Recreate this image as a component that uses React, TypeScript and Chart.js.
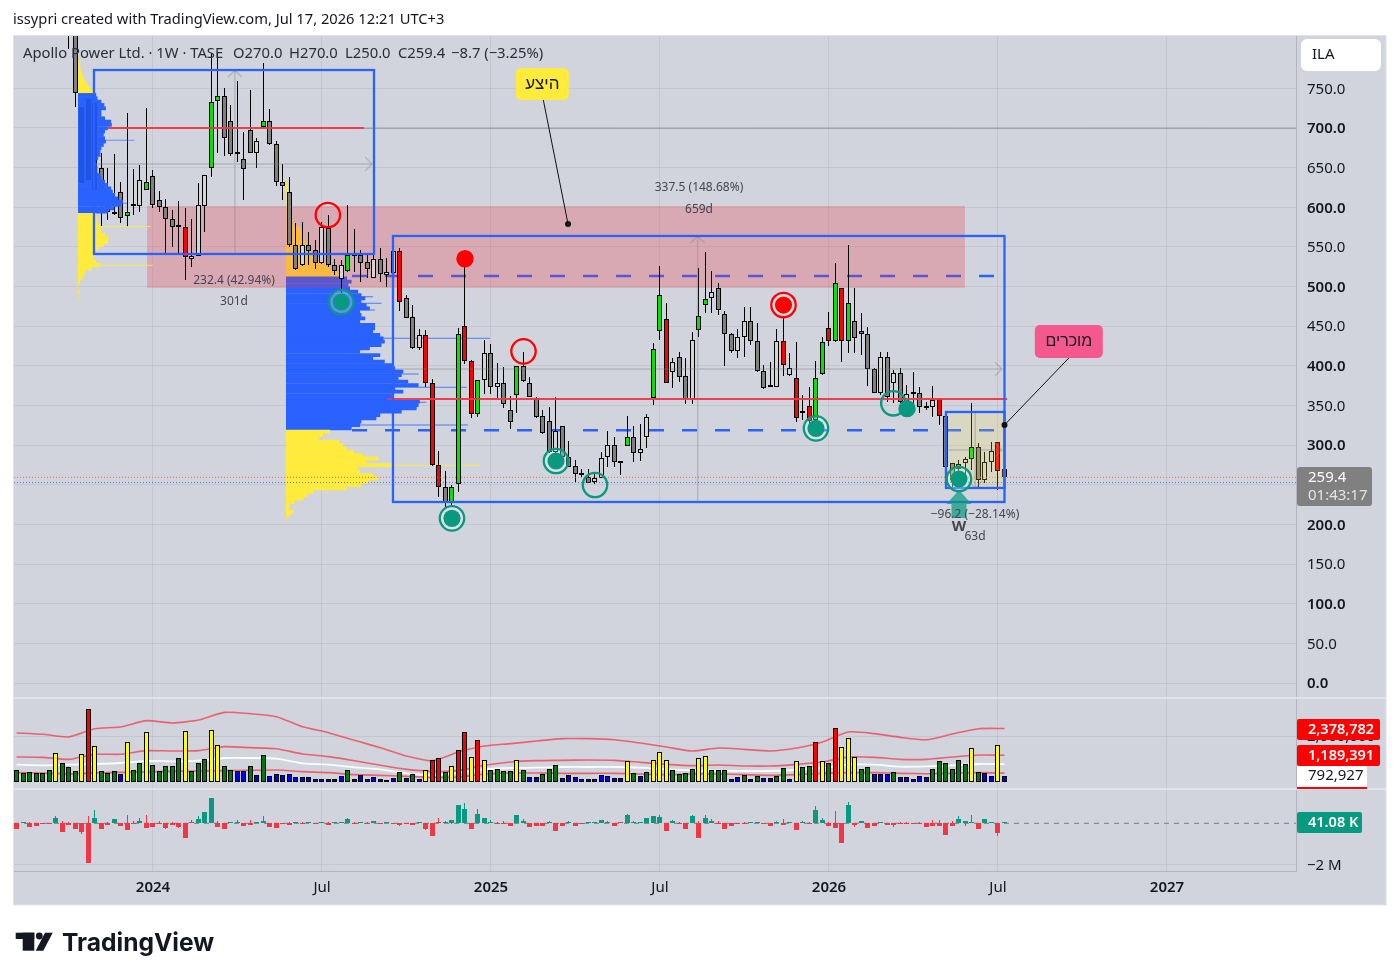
import React, { useEffect, useRef } from "react";
import { Chart, registerables } from "chart.js";

Chart.register(...registerables);

const FONT = '"Noto Sans", sans-serif';

// ---------- time axis ----------
const timeTickIndex = [21, 47, 73, 99, 125, 151, 177];
const timeTickLabels = ["2024", "Jul", "2025", "Jul", "2026", "Jul", "2027"];
const priceTicks = [0, 50, 100, 150, 200, 250, 300, 350, 400, 450, 500, 550, 600, 650, 700, 750];

// ---------- candles (first one sits at bar index 8) ----------
const firstCandleIndex = 8;
// g dark grey, l light grey, G green, R red
const candleKindRows = ["gg","gggggggGgl","GgggggRlll","GGgglgglGg","gggglgglgg","lGggglgllR","gglRRRgGGR","RGlglggGgg","ggglgggggl","llggGgllGG","RlgglGGlgg","gllgggllRl","RRRGGRGRGg","ggglglglgg","glRggGlGgl","lRg"];
const candleOpen = [840,820,727,737,731,649,605,594,619,589,603,602,622,639,609,600,585,576.4,574.7,534.4,538,602,649,733.6,740,709,667,660.5,697,669,700.8,708.4,679.4,631.5,618.9,552,526.8,552,546,529.3,574,526.8,510,519.2,539.8,539.4,531,510.4,535,515,517.5,544.4,485,461,422.9,438.4,378,274.5,246.7,226.6,250.5,449.8,405.7,338.8,381.7,415.8,372.9,378,343.9,362.8,399.4,378,359,336.3,330,291.7,323.7,284.6,273.2,263.2,259.4,253,258.1,284.6,299.7,278.3,299.3,309.8,289.6,309.8,359,443.5,458.6,391.8,410.7,386.7,357.7,444.8,476.3,485.1,497.7,464.9,439.7,418.3,436,456.1,430.9,393,373.7,372.9,430.9,388.8,384.2,342.6,348.9,331.7,389.3,447.3,430.9,497.7,430.9,456.1,443.5,439.7,395.6,365.3,410.7,378,390.5,350.6,365.3,365.3,348.5,347.6,357.7,336.3,277,269.4,277,282,297.2,255.6,278.3,303.5,270];
const candleClose = [822,744,630,634,622,625,594,592,587,594,602,634,631.5,603.3,600,585,575.6,575.6,537,538,602.5,640.3,732.4,740,687,667,670,648,669,684,708.4,679.4,631.5,627.3,552,521.8,552,544.5,529.3,575.6,526.8,519.2,526.8,539.8,539,530,521.8,535,515.9,518,544.4,480,460.7,422.9,438.4,378,274.5,246.7,226.6,246.7,439.7,405.7,338.8,381.7,415.8,372.9,378,351.4,328.7,399.4,380.4,361,335,314.9,291.7,317.4,285.4,272.8,263.2,262.3,252.6,258.1,284.2,299.7,278.3,277,309.8,289.6,294.7,335,420.8,488.9,378.7,404.4,385.5,357.7,432.1,462.4,484.7,492.7,470,439.7,418.3,436,456.1,430.9,393,371.6,374.5,430.9,400.6,397.7,333.8,340.1,330.8,384.2,429.6,430.9,504,430.9,478.8,434.7,439.7,395.6,365.3,410.7,361,390.5,354.8,364,364.5,347.6,347.2,356.5,336.3,272,256,275.8,282,297.2,255.6,278.3,292.2,266.9,259.4];
const candleHigh = [860,860,735,750,745,668,649,667,632,718.5,648,653,725,647,621,611,597,608,599,585,630,641,794,794,751,729,759,695,748,687,781.6,723.5,683.6,654.6,638.6,580.6,581.4,569,559,582,590,534.4,533.5,602.9,572.6,546,539.8,542,548,535.6,550,548,489.3,476.7,446.4,445,383,292.6,267.8,249.7,447.3,535.6,407.3,382,432.6,427,403.1,398.1,362.4,399.8,417.4,385.9,360.2,343.9,348,360.2,323.7,305.2,281.2,269.4,269.4,264.4,290.9,317.8,310.6,279.1,336.7,324.1,326.6,339.2,429.2,525.9,478.8,409.4,417.8,409.4,443,523,543.1,519.2,504,469.1,441,446,473.8,473.8,453.6,400.6,405.2,446,459.9,415.8,429.6,363.2,373.7,406.1,436.8,467.5,529.3,497.7,552.4,497.7,466.2,448.5,396.8,417,417,394.7,396.8,375.8,391.8,373.7,354.8,374.5,359,336.3,277,281.2,285.4,352.7,302.2,290.9,303.5,304.3,270];
const candleLow = [800,727,620,625,610,576,584,590,580,575.6,590,594,622,599,594,542,550,542,508,525,538,569,638.6,668,664.7,665,657.5,609,668,650,700,678,627,609,550.3,521,526,527,521.8,528.5,525,514.6,491.5,518.8,518.8,506,510.4,510.4,506,500,514.5,469,460.7,420.8,420,373.7,273.7,235,222.4,222.4,241.3,401.9,333.8,335.9,364.5,364.5,359.8,346.4,320.3,340.9,379.2,360.2,333.8,314,289.6,289.6,285.4,272,253.9,259.4,251.8,251,258.1,272.8,272.8,262.3,299.3,279.1,280.4,296.8,350.6,432.6,378,372.4,380,351.4,351.8,436.8,467,466.2,464,399.8,416.6,410.3,411.5,426.3,392.6,370.3,373.7,372.9,387.6,387.6,329.6,331.7,323.3,331.7,388,425,430.5,405.2,416.6,416.6,413.6,375,365.3,363.2,354,352.7,352.7,342.2,348.5,340.9,344.3,335.9,325.4,272,247.6,247,256,268.6,247.6,251.8,266.5,243.4,250];
const hiddenCandleIndex = [10, 11, 12];

// ---------- volume pane (thousands of shares, one per bar from index 0) ----------
const volumeK = [548,415,459,415,415,548,1304,859,681,504,1259,3259,1615,504,415,504,370,1793,548,859,2237,770,504,726,726,1081,2281,504,859,1037,2326,1659,726,548,504,504,726,326,1215,281,370,326,370,237,237,237,148,148,148,148,281,548,148,326,148,237,148,104,193,459,193,370,148,548,993,1081,459,726,1437,2237,1126,1881,993,548,593,504,504,993,548,237,237,370,593,770,193,326,237,148,148,148,326,281,193,193,948,415,281,459,993,1348,993,548,370,415,593,1081,1170,548,548,548,148,237,326,148,281,193,193,281,637,148,948,681,726,1793,948,859,2415,1570,1970,1126,593,681,370,370,370,459,237,237,148,281,237,593,948,859,593,993,815,1526,459,415,281,1659,281];
// g green, y yellow, r red, b blue
const volumeKindRows = ["ggggggyggg","yrygggbygg","ygggggyggg","yyggbbgbgb","bbbbbbbbbb","bgbbbbbbbg","bgbyrrgyrr","yryggggygb","bgggbbbbbb","bbbbygbgyy","yggggyyggg","bbgbgbbggb","yggrygryyy","ggbbbgbbbb","bggggggygb","byb"];
const volumeLineIndex = [0,4,8,12,16,20,24,28,32,36,40,44,48,52,56,60,64,68,72,76,80,84,88,92,96,100,104,108,112,116,120,124,128,132,136,140,144,148,152];
const volumeUpperK = [2178,2119,2000,2370,2444,2726,2622,2756,3096,3037,2904,2459,2193,1852,1526,1156,948,1333,1600,1704,1822,1926,1926,1881,1733,1556,1378,1511,1452,1378,1511,1778,2222,2148,1985,1881,2133,2370,2378.782];
const volumeMidK = [1111,1096,1007,1230,1230,1393,1378,1393,1570,1526,1481,1244,1126,948,741,563,474,504,741,889,948,963,978,963,874,785,726,756,711,711,785,889,1111,1096,1007,1007,1111,1200,1189.391];
const volumeMaK = [770,741,770,800,844,933,919,948,1067,1067,1037,830,770,652,563,385,296,415,563,622,637,667,667,667,637,563,519,504,489,489,533,622,770,770,681,696,741,800,792.927];
const volumeLowerK = [415,400,356,400,430,444,474,489,504,519,533,459,415,326,296,252,207,222,356,400,400,385,385,385,356,326,356,356,326,296,326,385,415,415,385,370,385,415,396];

// ---------- oscillator pane (thousands) ----------
const oscBody = [-272,64,-160,-112,-48,-32,256,-400,-96,-272,-416,-1888,256,-256,-64,208,-128,-320,-48,112,-224,-160,-48,-208,-64,-176,-688,-8,208,544,1216,-160,-272,32,48,-112,-64,16,112,-160,-224,-16,-64,32,-16,16,-32,16,-64,16,64,208,-16,32,-32,112,-16,16,-16,-80,-16,-96,48,-272,-608,-8,16,160,880,688,-272,448,256,16,-16,-16,-112,400,112,-176,-128,-128,48,-368,-128,64,-128,-16,64,48,160,32,-128,-8,400,64,32,256,352,304,-368,112,-16,-272,352,-704,256,112,-32,-272,-128,-32,-16,48,48,-48,-128,64,-64,32,-320,64,-16,640,160,-128,-224,-944,880,-80,112,-224,-128,64,-64,-64,-32,-16,-16,-32,-176,-128,-128,-560,-128,208,112,16,-272,208,64,-464,41];
const oscWickIndex = [2,6,7,8,10,11,12,14,17,18,19,20,22,23,24,25,27,28,31,34,36,38,42,43,44,48,51,52,54,59,63,65,66,67,69,71,73,74,75,78,82,85,91,94,95,99,101,102,104,105,106,107,108,112,117,118,119,121,122,123,124,125,126,128,129,135,136,137,139,141,142,144,145,146,147,151];
const oscWickK = [64,352,112,64,-512,352,640,64,400,112,256,400,112,-256,64,-224,160,352,112,144,160,352,64,64,64,64,256,64,64,-128,-320,240,112,-48,976,688,160,64,112,208,112,112,112,448,112,400,160,64,400,112,400,208,112,64,112,208,64,112,64,832,256,64,592,1024,-176,-176,64,64,64,160,160,112,352,-128,400,-608];

// ---------- volume profiles: rows of price and width in bars ----------
const profileALeft = 9.46;
const profileAPrice = [787.9,783.7,779.5,775.2,771,766.8,762.6,758.4,754.2,750,745.8,741.6,737.4,733.2,729,724.8,720.6,716.4,712.2,708,703.8,699.6,695.4,691.2,687,682.8,678.6,674.4,670.2,666,661.7,657.5,653.3,649.1,644.9,640.7,636.5,632.3,628.1,623.9,619.7,615.5,611.3,607.1,602.9,598.7,594.5,590.3,586.1,581.9,577.7,573.5,569.3,565,560.8,556.6,552.4,548.2,544,539.8,535.6,531.4,527.2,523,518.8,514.6,510.4,506.2,502,497.8,493.6,489.4,485.2];
const profileAWidth = [0.05,0.15,0.25,0.35,0.45,0.7,0.85,1.2,1.5,1.9,2.5,2.8,3,3.6,4.05,4.3,3.6,3.6,4.15,5.1,5.2,4.6,4.15,3.95,4.15,4.3,3.95,3.6,3.45,3.45,3.1,2.8,2.9,3,3,3.45,3.6,4.15,4.6,5.1,5.35,5.7,6.2,6.9,6.6,5.6,4.6,2.8,2.9,3,3.3,3.45,3.6,4.15,4.7,4.65,3.95,3.1,2.5,2.5,2.4,2.8,3.45,2.1,1.1,0.85,0.7,0.3,0.1,0.05,0.15,0.05,0.1];
const profileAValueHigh = 744;
const profileAValueLow = 592;
const profileASpikePrice = [684.4,605,575.6,526.8];
const profileASpikeWidth = [8.7,7.6,11.2,11.5];

const profileBLeft = 41.46;
const profileBPrice = [632.3,628.1,623.9,619.6,615.4,611.2,607,602.8,598.6,594.4,590.2,586,581.8,577.6,573.4,569.2,565,560.8,556.6,552.4,548.2,544,539.8,535.6,531.4,527.2,523,518.8,514.5,510.3,506.1,501.9,497.7,493.5,489.3,485.1,480.9,476.7,472.5,468.3,464.1,459.9,455.7,451.5,447.3,443.1,438.9,434.7,430.5,426.3,422.1,417.9,413.6,409.4,405.2,401,396.8,392.6,388.4,384.2,380,375.8,371.6,367.4,363.2,359,354.8,350.6,346.4,342.2,338,333.8,329.6,325.4,321.2,317,312.8,308.6,304.4,300.1,295.9,291.7,287.5,283.3,279.1,274.9,270.7,266.5,262.3,258.1,253.9,249.7,245.5,241.3,237.1,232.9,228.7,224.5,220.3,216.1,211.9,207.7];
const profileBWidth = [0.1,0.2,0.2,0.25,0.3,0.3,0.35,0.4,0.45,0.6,0.7,0.85,1,1.1,2.15,2.35,2.55,2.75,2.9,3.2,3.4,3.8,4.2,4.55,5.1,6.1,6.9,7.9,8.65,9.4,10.1,9.6,9.85,11.1,11.6,12.2,11.6,12.4,12.9,11.4,11.6,12.2,11.4,13.7,13.7,13.4,14.5,15,15.2,14.7,12.9,11.4,14.5,13.4,15.2,16.5,16.8,18.05,17.8,17.3,18.8,20.4,16.8,18.05,16.3,16.5,20.6,20.4,20.1,17.8,14.5,13.9,11.6,11.4,10.1,6.8,5.7,5,8.2,8.8,9.3,10.4,11.9,14.2,12.4,16.5,11.1,11.4,13.4,14.2,12.7,11.6,9.3,4.2,3.3,2.7,1.4,0.6,0.5,1.1,0.6,0.1];
const profileBValueHigh = 512;
const profileBValueLow = 319;
const profileBSpikePrice = [487.2,478.8,470.4,434.7,394.3,389.7,372.9,354,325.4,274.5];
const profileBSpikeWidth = [13.4,14.7,13.7,31.4,17.8,20.4,27.8,21.6,28,29.8];

// ---------- drawings, in bar index and price ----------
const rectangles = [
  [11.92, 773.1, 55, 541.1],
  [57.92, 563.8, 152, 228.3],
  [143, 341.8, 152, 246],
];
const supplyZone = [20.08, 601.6, 145.92, 498.4];
const solidRedLines = [
  [14.08, 53.46, 700],
  [57, 152.4, 358.2],
];
const dashedLevels = [513.3, 318.7];
const dashedFrom = 51.62;
const dashedTo = 150.4;
const measureLines = [
  { h: 654.6, from: 11.92, to: 54.7, v: 33.6, top: 773, bottom: 541, up: true },
  { h: 396, from: 57.92, to: 151.6, v: 104.8, top: 563.8, bottom: 228.3, up: true },
  { h: 293.9, from: 143, to: 151.6, v: 147.5, top: 341, bottom: 246, up: false },
];
const lastPrice = 259.4;
const bidPrice = 252.8;
const ringFilled = [[49.97,480.5],[67,207.7],[83,280],[123,321.2],[145,257.3]];
const ringOnly = [[89,249.7],[134.9,352.8]];
const dotOnly = [[137,346]];
const redRingOnly = [[47.9,590.2],[78,418.3]];
const redDotOnly = [[69,535.1]];
const redRingFilled = [[118,476.7]];

const kinds = candleKindRows.join("").split("");
const volumeKinds = volumeKindRows.join("").split("");

const KIND_COLOR: Record<string, string> = { g: "#808080", l: "#d4d4d4", G: "#00e600", R: "#ff0000" };
const VOL_COLOR: Record<string, string> = { g: "#007a0c", y: "#ffff00", r: "#ff0000", b: "#0000f0" };
const BLUE = "#2962ff";
const YELLOW = "#ffeb3b";
const TEAL = "#089981";
const RED = "#f23645";

const candleIdx = candleOpen.map((_, i) => i + firstCandleIndex);

function profileData(left: number, prices: number[], widths: number[]) {
  return prices.map((p, i) => ({ y: p, x: [left, left + widths[i]] }));
}
function profileColors(prices: number[], hi: number, lo: number, blue: string, yellow: string) {
  return prices.map((p) => (p <= hi && p >= lo ? blue : yellow));
}

const baseBar = { type: "bar" as const, grouped: false, xAxisID: "x", borderSkipped: false, inflateAmount: 0 };

const datasets: any[] = [
  // top layer first: lower order is painted later
  {
    ...baseBar, snap: 0, order: 0, yAxisID: "yP", barThickness: 5,
    data: hiddenCandleIndex.map((x) => ({ x, y: [candleOpen[x - firstCandleIndex], candleClose[x - firstCandleIndex]] })),
    backgroundColor: "rgba(0,30,130,0.2)",
  },
  {
    ...baseBar, order: 2, yAxisID: "yP", indexAxis: "y", barThickness: 1,
    data: profileData(profileALeft, profileASpikePrice, profileASpikeWidth),
    backgroundColor: profileColors(profileASpikePrice, profileAValueHigh, profileAValueLow, "rgba(41,98,255,0.6)", "rgba(255,235,59,0.85)"),
  },
  {
    ...baseBar, order: 3, yAxisID: "yP", indexAxis: "y", barThickness: 3.8,
    data: profileData(profileALeft, profileAPrice, profileAWidth),
    backgroundColor: profileColors(profileAPrice, profileAValueHigh, profileAValueLow, BLUE, YELLOW),
  },
  {
    ...baseBar, snap: 2, order: 10, yAxisID: "yP", barThickness: 5, borderWidth: 1, borderColor: "#000",
    data: candleIdx.map((x, i) => ({ x, y: [candleOpen[i], candleClose[i]] })),
    backgroundColor: kinds.map((k) => KIND_COLOR[k]),
  },
  {
    ...baseBar, snap: 1, order: 11, yAxisID: "yP", barThickness: 1,
    data: candleIdx.map((x, i) => ({ x, y: [candleLow[i], candleHigh[i]] })),
    backgroundColor: "#000",
  },
  {
    ...baseBar, order: 20, yAxisID: "yP", indexAxis: "y", barThickness: 1,
    data: profileData(profileBLeft, profileBSpikePrice, profileBSpikeWidth),
    backgroundColor: profileColors(profileBSpikePrice, profileBValueHigh, profileBValueLow, "rgba(41,98,255,0.8)", "rgba(255,235,59,0.9)"),
  },
  {
    ...baseBar, order: 21, yAxisID: "yP", indexAxis: "y", barThickness: 3.8,
    data: profileData(profileBLeft, profileBPrice, profileBWidth),
    backgroundColor: profileColors(profileBPrice, profileBValueHigh, profileBValueLow, BLUE, YELLOW),
  },
  // volume
  {
    ...baseBar, snap: 1, order: 30, yAxisID: "yV", barThickness: 5, borderWidth: 1, borderColor: "#000",
    data: volumeK.map((v, i) => ({ x: i, y: v })),
    backgroundColor: volumeKinds.map((k) => VOL_COLOR[k]),
  },
  ...[
    { d: volumeLowerK, c: "rgba(242,54,69,0.72)", w: 1.6 },
    { d: volumeMaK, c: "rgba(255,255,255,0.92)", w: 1.8 },
    { d: volumeMidK, c: "rgba(242,54,69,0.72)", w: 1.6 },
    { d: volumeUpperK, c: "rgba(242,54,69,0.72)", w: 1.6 },
  ].map((l, n) => ({
    type: "line" as const, order: 31 + n, xAxisID: "x", yAxisID: "yV", borderColor: l.c, borderWidth: l.w,
    pointRadius: 0, tension: 0.2, data: volumeLineIndex.map((x, i) => ({ x, y: l.d[i] })),
  })),
  // oscillator
  {
    ...baseBar, snap: 1, order: 40, yAxisID: "yO", barThickness: 5,
    data: oscBody.map((v, i) => ({ x: i, y: [0, v] })),
    backgroundColor: oscBody.map((v) => (v > 0 ? TEAL : RED)),
  },
  {
    ...baseBar, snap: 1, order: 41, yAxisID: "yO", barThickness: 1,
    data: oscWickIndex.map((x, i) => ({ x, y: [0, oscWickK[i]] })),
    backgroundColor: oscWickIndex.map((x) => (oscBody[x] > 0 ? TEAL : RED)),
  },
  {
    type: "line" as const, order: 42, xAxisID: "x", yAxisID: "yO", borderColor: "#787b86", borderWidth: 1,
    borderDash: [5, 5], pointRadius: 0, data: [{ x: -0.385, y: 0 }, { x: 196.85, y: 0 }],
  },
];

const PROFILE_B_DATASET = 6;

function chevron(ctx: any, x: number, y: number, dir: string) {
  ctx.beginPath();
  if (dir === "right") { ctx.moveTo(x - 7, y - 7); ctx.lineTo(x, y); ctx.lineTo(x - 7, y + 7); }
  if (dir === "up") { ctx.moveTo(x - 7, y + 7); ctx.lineTo(x, y); ctx.lineTo(x + 7, y + 7); }
  if (dir === "down") { ctx.moveTo(x - 7, y - 7); ctx.lineTo(x, y); ctx.lineTo(x + 7, y - 7); }
  ctx.stroke();
}

function txt(ctx: any, s: string, x: number, y: number, font: string, color: string, align: any = "left") {
  ctx.font = font;
  ctx.fillStyle = color;
  ctx.textAlign = align;
  ctx.textBaseline = "middle";
  ctx.fillText(s, x, y);
}

function roundBox(ctx: any, x: number, y: number, w: number, h: number, r: number, fill: string) {
  ctx.beginPath();
  ctx.roundRect(x, y, w, h, r);
  ctx.fillStyle = fill;
  ctx.fill();
}

const drawings = {
  id: "drawings",
  afterDatasetsUpdate(chart: any) {
    // pixel-snap bars the way the trading terminal does
    chart.data.datasets.forEach((ds: any, i: number) => {
      if (ds.snap === undefined) return;
      chart.getDatasetMeta(i).data.forEach((el: any) => {
        el.x = Math.round(el.x - 0.5) + 0.5;
        el.y = Math.round(el.y);
        el.base = Math.round(el.base);
        if (ds.snap && Math.abs(el.y - el.base) < ds.snap) el.y = el.base - ds.snap;
      });
    });
  },
  beforeDraw(chart: any) {
    const { ctx } = chart;
    ctx.save();
    ctx.fillStyle = "#fff";
    ctx.fillRect(0, 0, 1399, 980);
    ctx.fillStyle = "#d1d4dc";
    ctx.fillRect(13, 35, 1373, 870);
    ctx.restore();
  },
  afterDatasetDraw(chart: any, args: any) {
    if (args.index !== PROFILE_B_DATASET) return;
    const { ctx } = chart;
    const X = (v: number) => chart.scales.x.getPixelForValue(v);
    const Y = (v: number) => chart.scales.yP.getPixelForValue(v);
    ctx.save();
    ctx.strokeStyle = BLUE;
    ctx.lineWidth = 2.5;
    ctx.setLineDash([15, 18]);
    dashedLevels.forEach((p) => {
      ctx.beginPath();
      ctx.moveTo(X(dashedFrom), Y(p));
      ctx.lineTo(X(dashedTo), Y(p));
      ctx.stroke();
    });
    ctx.setLineDash([]);
    ctx.fillStyle = "rgba(242,54,69,0.27)";
    const [a, b, c, d] = supplyZone;
    ctx.fillRect(X(a), Y(b), X(c) - X(a), Y(d) - Y(b));
    ctx.restore();
  },
  afterDatasetsDraw(chart: any) {
    const { ctx, chartArea } = chart;
    const X = (v: number) => chart.scales.x.getPixelForValue(v);
    const Y = (v: number) => chart.scales.yP.getPixelForValue(v);
    ctx.save();

    // horizontal ray at 700 and last price lines
    ctx.strokeStyle = "rgba(105,105,118,0.6)";
    ctx.lineWidth = 1;
    ctx.beginPath();
    ctx.moveTo(X(53.46), Y(700) + 0.3);
    ctx.lineTo(chartArea.right, Y(700) + 0.3);
    ctx.stroke();
    ctx.setLineDash([1, 2]);
    ctx.strokeStyle = "rgba(239,83,80,0.8)";
    ctx.beginPath();
    ctx.moveTo(chartArea.left, Y(lastPrice));
    ctx.lineTo(chartArea.right, Y(lastPrice));
    ctx.stroke();
    ctx.strokeStyle = "rgba(41,98,255,0.8)";
    ctx.beginPath();
    ctx.moveTo(chartArea.left, Y(bidPrice));
    ctx.lineTo(chartArea.right, Y(bidPrice));
    ctx.stroke();
    ctx.setLineDash([]);

    // solid red levels
    ctx.strokeStyle = "rgba(242,54,69,0.95)";
    ctx.lineWidth = 2;
    solidRedLines.forEach(([f, t, p]) => {
      ctx.beginPath();
      ctx.moveTo(X(f), Y(p));
      ctx.lineTo(X(t), Y(p));
      ctx.stroke();
    });

    // shaded box on the last bars
    const [r0, r1, r2] = rectangles;
    ctx.fillStyle = "rgba(255,235,59,0.18)";
    ctx.fillRect(X(r2[0]), Y(r2[1]), X(r2[2]) - X(r2[0]), Y(r2[3]) - Y(r2[1]));

    // measure guides
    ctx.strokeStyle = "rgba(130,130,135,0.35)";
    ctx.lineWidth = 1.5;
    measureLines.forEach((m) => {
      ctx.beginPath();
      ctx.moveTo(X(m.from), Y(m.h));
      ctx.lineTo(X(m.to), Y(m.h));
      ctx.moveTo(X(m.v), Y(m.top));
      ctx.lineTo(X(m.v), Y(m.bottom));
      ctx.stroke();
      chevron(ctx, X(m.to), Y(m.h), "right");
      chevron(ctx, X(m.v), m.up ? Y(m.top) : Y(m.bottom), m.up ? "up" : "down");
    });

    // blue frames
    ctx.strokeStyle = BLUE;
    ctx.lineWidth = 2.3;
    [r0, r1, r2].forEach(([a, b, c, d]) => ctx.strokeRect(X(a), Y(b), X(c) - X(a), Y(d) - Y(b)));

    // markers
    const ring = (x: number, y: number, color: string) => {
      ctx.strokeStyle = color;
      ctx.lineWidth = 2.3;
      ctx.beginPath();
      ctx.arc(X(x), Y(y), 12.2, 0, Math.PI * 2);
      ctx.stroke();
    };
    const dot = (x: number, y: number, color: string, r = 8.6) => {
      ctx.fillStyle = color;
      ctx.beginPath();
      ctx.arc(X(x), Y(y), r, 0, Math.PI * 2);
      ctx.fill();
    };
    const haze = (x: number, y: number) => dot(x, y, "rgba(255,255,255,0.28)", 12);
    ringFilled.forEach(([x, y]) => { haze(x, y); ring(x, y, TEAL); dot(x, y, TEAL); });
    ringOnly.forEach(([x, y]) => ring(x, y, TEAL));
    dotOnly.forEach(([x, y]) => dot(x, y, TEAL, 8.7));
    redRingOnly.forEach(([x, y]) => ring(x, y, "#ff0000"));
    redDotOnly.forEach(([x, y]) => dot(x, y, "#ff0000", 8.7));
    redRingFilled.forEach(([x, y]) => { haze(x, y); ring(x, y, "#ff0000"); dot(x, y, "#ff0000"); });

    // up arrow under the last ring
    const ax = X(145);
    ctx.fillStyle = "rgba(8,153,129,0.72)";
    ctx.beginPath();
    ctx.moveTo(ax, 490);
    ctx.lineTo(ax + 12.5, 504);
    ctx.lineTo(ax + 7.5, 504);
    ctx.lineTo(ax + 7.5, 518);
    ctx.lineTo(ax - 7.5, 518);
    ctx.lineTo(ax - 7.5, 504);
    ctx.lineTo(ax - 12.5, 504);
    ctx.closePath();
    ctx.fill();

    // callouts
    const callout = (cx: number, cy: number, w: number, h: number, fill: string, label: string, tx: number, ty: number, fs: number, fromBottom: boolean) => {
      const px = X(cx), py = Y(cy);
      ctx.strokeStyle = "#111";
      ctx.lineWidth = 1;
      ctx.beginPath();
      ctx.moveTo(px + (fromBottom ? 1 : 0), py + h / 2);
      ctx.lineTo(X(tx), Y(ty));
      ctx.stroke();
      ctx.fillStyle = "#111";
      ctx.beginPath();
      ctx.arc(X(tx), Y(ty), 3, 0, Math.PI * 2);
      ctx.fill();
      roundBox(ctx, px - w / 2, py - h / 2, w, h, 5, fill);
      ctx.direction = "rtl";
      txt(ctx, label, px, py + 0.5, `${fs}px "Liberation Sans", sans-serif`, "#131722", "center");
      ctx.direction = "ltr";
    };
    callout(80.9, 755.4, 53, 32, "#ffeb3b", "היצע", 84.85, 578.9, 17, true);
    callout(161.9, 430.7, 68, 33, "#f4588c", "מוכרים", 152, 325.4, 16, false);

    // measure texts
    const small = `12px ${FONT}`;
    const ink = "#434651";
    txt(ctx, "232.4 (42.94%)", 234, 281, small, ink, "center");
    txt(ctx, "301d", 234, 302, small, ink, "center");
    txt(ctx, "337.5 (148.68%)", 699, 188, small, ink, "center");
    txt(ctx, "659d", 699, 210, small, ink, "center");
    txt(ctx, "−96.2 (−28.14%)", 975, 515, small, ink, "center");
    txt(ctx, "63d", 975, 537, small, ink, "center");
    txt(ctx, "W", 959, 527, `700 15px ${FONT}`, "#434651", "center");

    // legend line
    const lg = `14.8px ${FONT}`;
    const lc = "#2a2e39";
    txt(ctx, "Apollo Power Ltd. · 1W · TASE", 23, 54, lg, lc);
    txt(ctx, "O270.0", 233, 54, lg, lc);
    txt(ctx, "H270.0", 289, 54, lg, lc);
    txt(ctx, "L250.0", 345, 54, lg, lc);
    txt(ctx, "C259.4", 398, 54, lg, lc);
    txt(ctx, "−8.7 (−3.25%)", 451, 54, lg, lc);
    ctx.restore();
  },
  afterDraw(chart: any) {
    const { ctx } = chart;
    ctx.save();
    // pane separators and frame
    ctx.strokeStyle = "#e6e8ee";
    ctx.lineWidth = 1.5;
    [698, 789].forEach((y) => {
      ctx.beginPath();
      ctx.moveTo(14, y);
      ctx.lineTo(1386, y);
      ctx.stroke();
    });
    ctx.strokeStyle = "#e0e3eb";
    ctx.lineWidth = 1;
    ctx.strokeRect(13.5, 35.5, 1372.5, 869.5);

    const f = `15px ${FONT}`;
    const b = `600 14.5px ${FONT}`;
    txt(ctx, "issypri created with TradingView.com, Jul 17, 2026 12:21 UTC+3", 13, 19.5, `14.7px ${FONT}`, "#131722");

    // ILA pill
    roundBox(ctx, 1301, 39, 80, 32, 6, "#ffffff");
    txt(ctx, "ILA", 1312, 55, `15px ${FONT}`, "#131722");

    // last price badge
    roundBox(ctx, 1297, 467, 75, 39, 3, "#808080");
    txt(ctx, "259.4", 1308, 478, f, "#ffffff");
    txt(ctx, "01:43:17", 1308, 496, f, "#e3e3e3");

    // volume badges
    roundBox(ctx, 1297, 719, 83, 21, 2, "#ff0000");
    txt(ctx, "2,378,782", 1308, 729.5, b, "#ffffff");
    roundBox(ctx, 1297, 745, 83, 21, 2, "#ff0000");
    txt(ctx, "1,189,391", 1308, 755.5, b, "#ffffff");
    ctx.fillStyle = "#ffffff";
    ctx.fillRect(1297, 766, 70, 21);
    ctx.fillStyle = "#ff0000";
    ctx.fillRect(1297, 787, 70, 2);
    txt(ctx, "792,927", 1308, 776, f, "#131722");

    // oscillator badge
    roundBox(ctx, 1297, 812, 65, 21, 2, "#089981");
    txt(ctx, "41.08 K", 1308, 822.5, b, "#ffffff");

    // brand mark
    ctx.fillStyle = "#131722";
    ctx.fillRect(15.7, 932.7, 18.6, 6.3);
    ctx.fillRect(22.7, 932.7, 11.6, 18);
    ctx.beginPath();
    ctx.arc(39.3, 936, 3.4, 0, Math.PI * 2);
    ctx.fill();
    ctx.beginPath();
    ctx.moveTo(45, 932.7);
    ctx.lineTo(52.7, 932.7);
    ctx.lineTo(43.3, 950.7);
    ctx.lineTo(35.7, 950.7);
    ctx.closePath();
    ctx.fill();
    ctx.font = `700 24.6px Inter, ${FONT}`;
    ctx.fillStyle = "#131722";
    ctx.textAlign = "left";
    ctx.textBaseline = "alphabetic";
    ctx.fillText("TradingView", 62, 951);
    ctx.restore();
  },
};

const yBase = {
  type: "linear" as const, position: "right" as const, offset: false, stack: "panes",
  border: { display: true, color: "#b2b5be" },
  afterFit: (s: any) => { s.width = 90; },
};

export default function App() {
  const ref = useRef<HTMLCanvasElement | null>(null);
  useEffect(() => {
    const chart = new Chart(ref.current as HTMLCanvasElement, {
      type: "bar",
      data: { datasets },
      plugins: [drawings],
      options: {
        animation: false,
        responsive: false,
        events: [],
        devicePixelRatio: 1,
        layout: { padding: { left: 14, top: 36, right: 13, bottom: 75 } },
        plugins: { legend: { display: false }, tooltip: { enabled: false } },
        scales: {
          x: {
            type: "linear", min: -0.385, max: 196.85, offset: false, position: "bottom",
            grid: { offset: false, color: "rgba(120,123,134,0.14)", drawTicks: false },
            border: { display: true, color: "#b2b5be" },
            afterBuildTicks: (s: any) => { s.ticks = timeTickIndex.map((value) => ({ value })); },
            afterFit: (s: any) => { s.height = 34; },
            ticks: {
              autoSkip: false, maxRotation: 0, padding: 8, color: "#131722",
              callback: (v: any) => timeTickLabels[timeTickIndex.indexOf(v)],
              font: (c: any) => ({ family: FONT, size: 15, weight: timeTickLabels[timeTickIndex.indexOf(c.tick?.value)] === "Jul" ? "400" : "600" }),
            },
          },
          yP: {
            ...yBase, min: -18.9, max: 816, stackWeight: 662,
            grid: { offset: false, color: "rgba(120,123,134,0.14)", drawTicks: false },
            afterBuildTicks: (s: any) => { s.ticks = priceTicks.map((value) => ({ value })); },
            ticks: {
              autoSkip: false, padding: 11, color: "#131722", labelOffset: 1,
              callback: (v: any) => Number(v).toFixed(1),
              font: (c: any) => ({ family: FONT, size: 15, weight: (c.tick?.value ?? 0) % 100 === 0 ? "600" : "400" }),
            },
          },
          yV: {
            ...yBase, min: -311, max: 3733, stackWeight: 91,
            grid: { color: "rgba(120,123,134,0.14)", drawTicks: false },
            afterBuildTicks: (s: any) => { s.ticks = [{ value: 2000 }]; },
            ticks: { autoSkip: false, padding: 11, color: "#131722", font: { family: FONT, size: 15 }, callback: () => "2,000,000" },
          },
          yO: {
            ...yBase, min: -2293, max: 1649, stackWeight: 82,
            grid: { color: "rgba(120,123,134,0.14)", drawTicks: false },
            afterBuildTicks: (s: any) => { s.ticks = [{ value: -2000 }]; },
            ticks: { autoSkip: false, padding: 11, color: "#131722", labelOffset: 1, font: { family: FONT, size: 15 }, callback: () => "−2 M" },
          },
        },
      } as any,
    } as any);
    return () => chart.destroy();
  }, []);
  return (
    <canvas
      ref={ref}
      width={1399}
      height={980}
      style={{ position: "absolute", left: 0, top: 0, width: 1399, height: 980, display: "block" }}
    />
  );
}
